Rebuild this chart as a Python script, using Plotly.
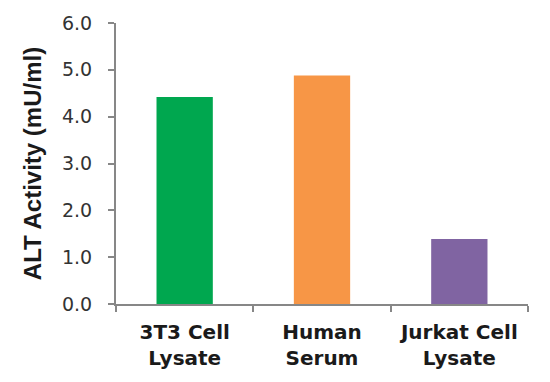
import plotly.graph_objects as go

categories = ["3T3 Cell<br>Lysate", "Human<br>Serum", "Jurkat Cell<br>Lysate"]
values = [4.42, 4.88, 1.39]
colors = ["#00A74F", "#F79646", "#8064A2"]
y_ticks = [0, 1, 2, 3, 4, 5, 6]

axis_color = "#878787"

fig = go.Figure(
    go.Bar(
        x=categories,
        y=values,
        marker=dict(color=colors, line=dict(width=0)),
        width=0.41,
    )
)

fig.update_layout(
    width=550,
    height=382,
    margin=dict(l=108, r=30, t=15, b=86, autoexpand=False),
    paper_bgcolor="white",
    plot_bgcolor="white",
    showlegend=False,
    font=dict(family="Liberation Sans, Arial, sans-serif", color="#1a1a1a"),
)

fig.update_xaxes(
    automargin=False,
    showline=True,
    linecolor=axis_color,
    linewidth=2,
    ticks="outside",
    tickson="boundaries",
    ticklen=6,
    tickwidth=2,
    tickcolor=axis_color,
    showgrid=False,
    tickfont=dict(size=20, family="DejaVu Sans, sans-serif", weight="bold", color="#1a1a1a"),
    tickangle=0,
    ticklabelstandoff=9,
)

fig.update_yaxes(
    automargin=False,
    range=[0, 6],
    tickvals=y_ticks,
    tickformat=".1f",
    showline=True,
    linecolor=axis_color,
    linewidth=2,
    ticks="outside",
    ticklen=6,
    tickwidth=2,
    tickcolor=axis_color,
    showgrid=False,
    zeroline=False,
    tickfont=dict(size=19, family="DejaVu Sans, sans-serif", color="#333333"),
    ticklabelstandoff=12,
    title=dict(
        text="ALT Activity (mU/ml)",
        font=dict(size=24, family="Liberation Sans, Arial, sans-serif", weight="bold", color="#1a1a1a"),
        standoff=14,
    ),
)

fig.write_html("out.html")
